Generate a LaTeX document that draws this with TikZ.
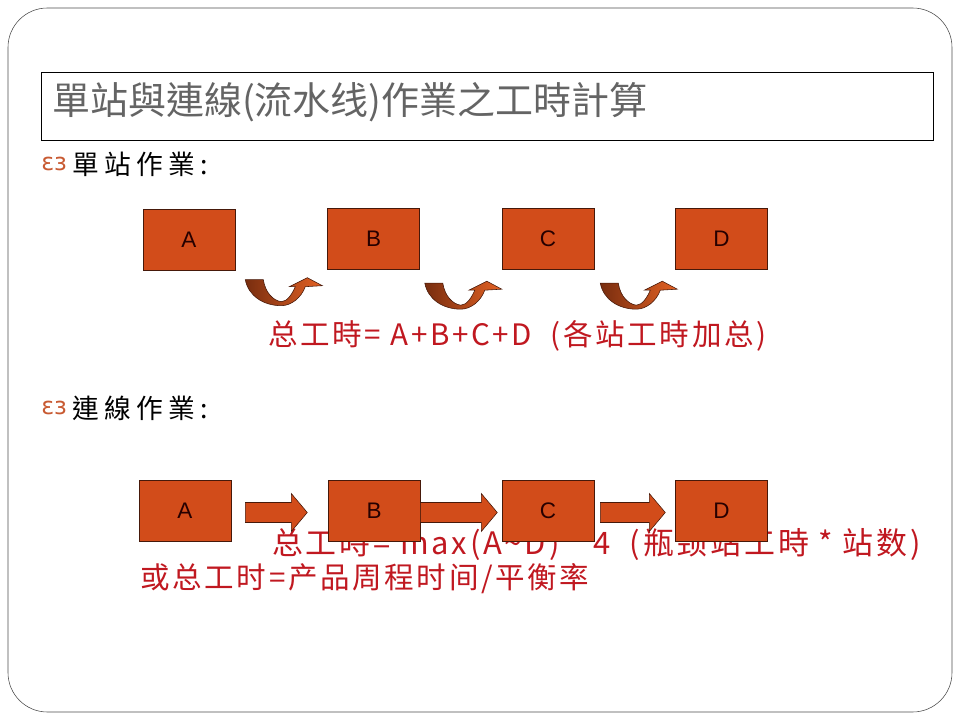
\documentclass[tikz,border=0pt]{standalone}
\usepackage{fontspec}
\setmainfont{Liberation Sans}
\newfontfamily\titlefont{Noto Sans CJK TC}
\newfontfamily\headfont[LetterSpace=20]{Noto Sans CJK TC}
\newfontfamily\redfont[LetterSpace=9]{Noto Sans CJK SC}
\newfontfamily\symfont{DejaVu Sans}
\usetikzlibrary{positioning,calc}
\definecolor{StationRed}{RGB}{210,76,26}
\definecolor{StationEdge}{RGB}{70,25,10}
\definecolor{SumRed}{RGB}{192,24,32}
\definecolor{TitleGray}{RGB}{100,100,100}
\definecolor{BulletOrange}{RGB}{200,90,50}
\definecolor{ArrowDark}{RGB}{120,45,15}
\definecolor{ArrowLight}{RGB}{228,98,36}
\tikzset{
  station/.style={draw=StationEdge,fill=StationRed,minimum width=2.3cm,
    minimum height=1.52cm,inner sep=0pt,font=\fontsize{16}{16}\selectfont,
    text=black!85!red},
  sumtext/.style={anchor=west,inner sep=0pt,text=SumRed,
    font=\redfont\fontsize{21}{21}\selectfont},
  headtext/.style={anchor=west,inner sep=0pt,font=\headfont\fontsize{19}{19}\selectfont},
  bulletmark/.style={anchor=west,inner sep=0pt,text=BulletOrange,
    font=\symfont\fontsize{17}{17}\selectfont},
  pushflow/.style={draw=StationEdge,fill=StationRed,line join=miter},
  pics/pusharrow/.style={code={
    \draw[pushflow] (0,-10) -- ({#1-16},-10) -- ({#1-16},-19) -- (#1,0)
      -- ({#1-16},19) -- ({#1-16},10) -- (0,10) -- cycle;}},
  pics/turnarrow/.style={code={
    \shadedraw[left color=ArrowDark,right color=ArrowLight,draw=StationEdge]
      (0,2) -- (18,2) .. controls (20,15) and (28,23) .. (36,24)
      .. controls (42,24) and (47,16) .. (50,9) -- (44,9) -- (62,0) -- (77,8)
      -- (60,9) .. controls (56,20) and (46,28) .. (36,28)
      .. controls (18,28) and (3,18) .. (0,2) -- cycle;}}
}

\begin{document}
\begin{tikzpicture}[x=0.025cm,y=-0.025cm]
  \useasboundingbox (0,0) rectangle (960,720);
  \draw[gray!60!black,rounded corners=28] (8,8) rectangle (952,712);

  % title
  \node[draw=black,anchor=north west,minimum width=22.3cm,minimum height=1.7cm,
    inner sep=0pt] (titlebox) at (41,72) {};
  \node[anchor=west,inner sep=0pt,text=TitleGray,
    font=\titlefont\fontsize{27}{27}\selectfont] (title) at (52,102)
    {單站與連線(流水线)作業之工時計算};

  % single station work
  \node[bulletmark] (markone) at (41,164) {ɛɜ};
  \node[headtext] (headone) at (72,164) {單站作業:};

  \node[station] (soloA) at (189,240) {A};
  \node[station] (soloB) at (373.5,238.5) {B};
  \node[station] (soloC) at (548,238.5) {C};
  \node[station] (soloD) at (721.5,238.5) {D};

  \pic at ($(soloA.south east)+(10,7)$) {turnarrow};
  \pic at ($(soloB.south east)+(5,12)$) {turnarrow};
  \pic at ($(soloC.south east)+(6,12)$) {turnarrow};

  \node[sumtext] (sumone) at (268,336) {总工時= A+B+C+D\ \ (各站工時加总)};

  % line work
  \node[bulletmark] (marktwo) at (41,408) {ɛɜ};
  \node[headtext] (headtwo) at (72,408) {連線作業:};

  \node[sumtext,font=\redfont\fontsize{22}{22}\selectfont] (sumtwo) at (272,545)
    {总工時= max(A\textasciitilde D) * 4\ \ (瓶颈站工時 * 站数)};
  \node[sumtext] (sumthree) at (140,579) {或总工时=产品周程时间/平衡率};

  \node[station] (lineA) at (185,510.5) {A};
  \node[station] (lineB) at (374,510.5) {B};
  \node[station] (lineC) at (548,510.5) {C};
  \node[station] (lineD) at (721.5,510.5) {D};

  \pic at ($(lineA.east)+(14,2)$) {pusharrow=62};
  \pic at ($(lineB.east)+(0,2)$) {pusharrow=77};
  \pic at ($(lineC.east)+(6,2)$) {pusharrow=65};
\end{tikzpicture}
\end{document}
